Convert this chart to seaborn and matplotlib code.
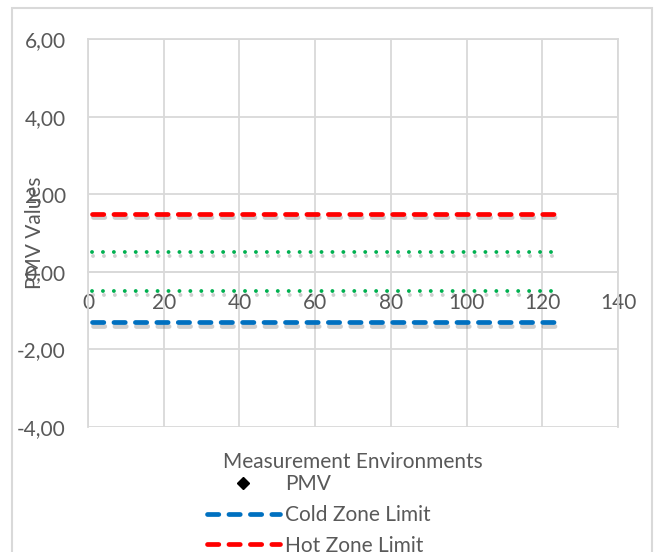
import matplotlib
matplotlib.use("Agg")
import matplotlib.pyplot as plt
import matplotlib.patheffects as pe
from matplotlib.lines import Line2D
from matplotlib.patches import Rectangle
from matplotlib.ticker import FuncFormatter
import seaborn as sns

# data
limit_x = [1, 123]
hot_zone = [1.5, 1.5]
cold_zone = [-1.3, -1.3]
comfort_upper = [0.5, 0.5]
comfort_lower = [-0.5, -0.5]
pmv_x = []
pmv_y = []

x_ticks = [0, 20, 40, 60, 80, 100, 120, 140]
y_ticks = [-4, -2, 0, 2, 4, 6]

TEXT = "#595959"
GRID = "#d9d9d9"
FS = 15

sns.set_theme(style="white")
plt.rcParams["font.family"] = ["Lato", "DejaVu Sans"]

fig = plt.figure(figsize=(6.57, 5.52), dpi=100)
ax = fig.add_axes([88 / 657, 125 / 552, 530 / 657, 388 / 552])

shadow = [pe.SimpleLineShadow(offset=(0.8, -2.5), shadow_color="#404040", alpha=0.25), pe.Normal()]
dash = (0, (2.4, 2.14))
dot = (0, (0.01, 2.8))

sns.lineplot(x=limit_x, y=hot_zone, ax=ax, color="#ff0000", linewidth=3.4,
             linestyle=dash, dash_capstyle="round", path_effects=shadow)
sns.lineplot(x=limit_x, y=cold_zone, ax=ax, color="#0070c0", linewidth=3.4,
             linestyle=dash, dash_capstyle="round", path_effects=shadow)
sns.lineplot(x=limit_x, y=comfort_upper, ax=ax, color="#00b050", linewidth=2.8,
             linestyle=dot, dash_capstyle="round", path_effects=shadow)
sns.lineplot(x=limit_x, y=comfort_lower, ax=ax, color="#00b050", linewidth=2.8,
             linestyle=dot, dash_capstyle="round", path_effects=shadow)
if pmv_x:
    sns.scatterplot(x=pmv_x, y=pmv_y, ax=ax, marker="D", color="black", s=30)

ax.set_xlim(0, 140)
ax.set_ylim(-4, 6)
ax.set_xticks(x_ticks)
ax.set_yticks(y_ticks)
ax.yaxis.set_major_formatter(FuncFormatter(lambda v, p: f"{v:.2f}".replace(".", ",")))
ax.grid(True, color=GRID, linewidth=1.3)
ax.set_axisbelow(True)
for side in ["top", "right", "left"]:
    ax.spines[side].set_color(GRID)
    ax.spines[side].set_linewidth(1.3)
ax.spines["bottom"].set_position(("data", 0))
ax.spines["bottom"].set_color(GRID)
ax.spines["bottom"].set_linewidth(1.3)
ax.tick_params(axis="both", length=0, labelsize=FS, labelcolor=TEXT)
ax.tick_params(axis="y", pad=16)
ax.tick_params(axis="x", pad=15)

fig.text(35 / 657, 1 - 233 / 552, "PMV Values", rotation=90, ha="center", va="center",
         fontsize=FS, color=TEXT)
fig.text(353 / 657, 1 - 462 / 552, "Measurement Environments", ha="center", va="center",
         fontsize=FS, color=TEXT)

handles = [
    Line2D([], [], linestyle="none", marker="D", color="black", markersize=6),
    Line2D([], [], color="#0070c0", linewidth=3.4, linestyle=dash, dash_capstyle="round"),
    Line2D([], [], color="#ff0000", linewidth=3.4, linestyle=dash, dash_capstyle="round"),
]
labels = ["PMV", "Cold Zone Limit", "Hot Zone Limit"]
fig.legend(handles, labels, loc="upper left", bbox_to_anchor=(207 / 657, 1 - 474 / 552),
           frameon=False, fontsize=FS, handlelength=3.5, handletextpad=0.25,
           labelspacing=0.52, borderpad=0, borderaxespad=0, labelcolor=TEXT)

fig.patches.append(Rectangle((12 / 657, -0.1), 640 / 657, 1.1 - 8 / 552,
                             transform=fig.transFigure, fill=False,
                             edgecolor=GRID, linewidth=1.5))

fig.savefig("out.png", dpi=100)
